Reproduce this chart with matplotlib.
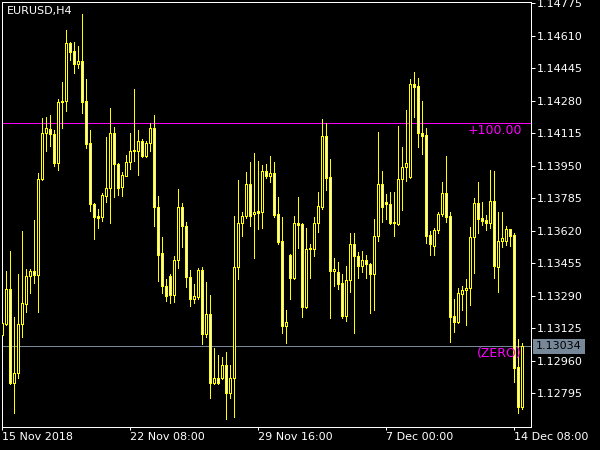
import matplotlib
matplotlib.use("Agg")
import matplotlib.pyplot as plt
import matplotlib.transforms as mtransforms

symbol = "EURUSD,H4"

# H4 bars from 15 Nov 2018 00:00 onward (weekends skipped)
opens = [1.13091, 1.13145, 1.13323, 1.12846, 1.12897, 1.13145, 1.13247, 1.13389, 1.13416, 1.13394,
         1.13882, 1.14115, 1.14137, 1.14110, 1.13966, 1.14273, 1.14279, 1.14572, 1.14533, 1.14465,
         1.14482, 1.14279, 1.14064, 1.13755, 1.13695, 1.13692, 1.13797, 1.13836, 1.14115, 1.13958,
         1.13844, 1.13900, 1.13968, 1.14025, 1.14027, 1.14076, 1.14000, 1.14064, 1.14141, 1.13739,
         1.13506, 1.13342, 1.13391, 1.13294, 1.13472, 1.13739, 1.13646, 1.13384, 1.13272, 1.13286,
         1.13421, 1.13095, 1.13196, 1.12846, 1.12871, 1.12871, 1.12939, 1.12799, 1.12871, 1.13435,
         1.13658, 1.13695, 1.13858, 1.13704, 1.13721, 1.13717, 1.13924, 1.13900, 1.13912, 1.13704,
         1.13568, 1.13139, 1.13497, 1.13379, 1.13658, 1.13655, 1.13235, 1.13535, 1.13528, 1.13658,
         1.13739, 1.14102, 1.13892, 1.13418, 1.13409, 1.13354, 1.13189, 1.13370, 1.13551, 1.13494,
         1.13443, 1.13472, 1.13450, 1.13399, 1.13594, 1.13856, 1.13765, 1.13755, 1.13667, 1.13653,
         1.13882, 1.13942, 1.13892, 1.14364, 1.14355, 1.14115, 1.14107, 1.13599, 1.13545, 1.13624,
         1.13704, 1.13811, 1.13695, 1.13188, 1.13159, 1.13298, 1.13320, 1.13328, 1.13587, 1.13760,
         1.13684, 1.13675, 1.13658, 1.13772, 1.13438, 1.13568, 1.13570, 1.13628, 1.13599, 1.12931,
         1.12727]
highs = [1.13159, 1.13416, 1.13518, 1.13181, 1.13401, 1.13619, 1.13426, 1.13426, 1.13675, 1.13914,
         1.14195, 1.14198, 1.14208, 1.14132, 1.14289, 1.14374, 1.14640, 1.14581, 1.14577, 1.14558,
         1.14721, 1.14391, 1.14132, 1.13760, 1.13731, 1.13814, 1.14098, 1.14245, 1.14149, 1.13963,
         1.13917, 1.14005, 1.14115, 1.14340, 1.14132, 1.14086, 1.14078, 1.14169, 1.14208, 1.13797,
         1.13591, 1.13374, 1.13401, 1.13492, 1.13833, 1.13763, 1.13663, 1.13421, 1.13350, 1.13430,
         1.13438, 1.13359, 1.13294, 1.13024, 1.12990, 1.12978, 1.13007, 1.12939, 1.13695, 1.13878,
         1.13714, 1.13917, 1.13968, 1.14014, 1.13975, 1.13954, 1.13959, 1.14000, 1.13968, 1.13794,
         1.13692, 1.13218, 1.13502, 1.13695, 1.13794, 1.13662, 1.13633, 1.13553, 1.13689, 1.13819,
         1.14188, 1.14166, 1.13985, 1.13484, 1.13460, 1.13401, 1.13442, 1.13607, 1.13607, 1.13514,
         1.13518, 1.13497, 1.13455, 1.13680, 1.14120, 1.13924, 1.13805, 1.13816, 1.13819, 1.14152,
         1.14047, 1.14234, 1.14389, 1.14425, 1.14394, 1.14279, 1.14144, 1.13619, 1.13633, 1.13714,
         1.13866, 1.14000, 1.13714, 1.13274, 1.13328, 1.13340, 1.13376, 1.13638, 1.13785, 1.13866,
         1.13768, 1.13700, 1.13929, 1.13926, 1.13717, 1.13717, 1.13646, 1.13629, 1.13607, 1.13069,
         1.13049]
lows = [1.13086, 1.13142, 1.12842, 1.12697, 1.12871, 1.13083, 1.13210, 1.13306, 1.13354, 1.13210,
        1.13878, 1.14027, 1.14053, 1.13951, 1.13931, 1.14144, 1.14230, 1.14487, 1.14423, 1.14445,
        1.14217, 1.14039, 1.13723, 1.13579, 1.13636, 1.13672, 1.13768, 1.13662, 1.13794, 1.13802,
        1.13799, 1.13899, 1.13934, 1.13976, 1.13904, 1.13997, 1.13997, 1.14027, 1.13646, 1.13367,
        1.13303, 1.13266, 1.13255, 1.13261, 1.13430, 1.13540, 1.13337, 1.13240, 1.13252, 1.13272,
        1.13044, 1.13083, 1.12770, 1.12841, 1.12842, 1.12868, 1.12663, 1.12773, 1.12677, 1.13374,
        1.13596, 1.13684, 1.13646, 1.13481, 1.13628, 1.13636, 1.13887, 1.13870, 1.13692, 1.13551,
        1.13100, 1.13049, 1.13274, 1.13376, 1.13531, 1.13184, 1.13230, 1.13382, 1.13494, 1.13616,
        1.13729, 1.13827, 1.13179, 1.13342, 1.13323, 1.13176, 1.13164, 1.13311, 1.13100, 1.13382,
        1.13413, 1.13382, 1.13201, 1.13218, 1.13570, 1.13667, 1.13680, 1.13653, 1.13594, 1.13650,
        1.13726, 1.13873, 1.13887, 1.14200, 1.14047, 1.14010, 1.13560, 1.13497, 1.13497, 1.13611,
        1.13695, 1.13663, 1.13057, 1.13108, 1.13150, 1.13218, 1.13142, 1.13244, 1.13408, 1.13607,
        1.13650, 1.13624, 1.13636, 1.13379, 1.13308, 1.13540, 1.13548, 1.13545, 1.12854, 1.12694,
        1.12714]
closes = [1.13150, 1.13323, 1.12846, 1.12897, 1.13147, 1.13252, 1.13389, 1.13416, 1.13394, 1.13882,
          1.14115, 1.14141, 1.14110, 1.13966, 1.14273, 1.14279, 1.14572, 1.14526, 1.14465, 1.14482,
          1.14273, 1.14061, 1.13755, 1.13692, 1.13687, 1.13802, 1.13836, 1.14115, 1.13958, 1.13839,
          1.13904, 1.13968, 1.14027, 1.14031, 1.14076, 1.14000, 1.14064, 1.14141, 1.13739, 1.13497,
          1.13342, 1.13289, 1.13294, 1.13472, 1.13739, 1.13646, 1.13384, 1.13272, 1.13289, 1.13421,
          1.13095, 1.13196, 1.12846, 1.12871, 1.12846, 1.12939, 1.12799, 1.12871, 1.13435, 1.13658,
          1.13695, 1.13858, 1.13695, 1.13714, 1.13712, 1.13924, 1.13900, 1.13912, 1.13700, 1.13565,
          1.13139, 1.13155, 1.13379, 1.13658, 1.13650, 1.13235, 1.13528, 1.13526, 1.13658, 1.13746,
          1.14102, 1.13887, 1.13418, 1.13425, 1.13350, 1.13189, 1.13370, 1.13551, 1.13492, 1.13443,
          1.13472, 1.13450, 1.13399, 1.13594, 1.13856, 1.13743, 1.13755, 1.13662, 1.13658, 1.13882,
          1.13942, 1.13963, 1.14364, 1.14352, 1.14115, 1.14103, 1.13596, 1.13551, 1.13624, 1.13704,
          1.13811, 1.13692, 1.13184, 1.13159, 1.13303, 1.13320, 1.13328, 1.13587, 1.13760, 1.13678,
          1.13672, 1.13658, 1.13772, 1.13443, 1.13568, 1.13582, 1.13628, 1.13596, 1.12925, 1.12727,
          1.13034]

date_ticks = [0, 32, 64, 96, 128]
date_labels = ["15 Nov 2018", "22 Nov 08:00", "29 Nov 16:00", "7 Dec 00:00", "14 Dec 08:00"]
price_ticks = [1.12795, 1.12960, 1.13125, 1.13290, 1.13455, 1.13620, 1.13785,
               1.13950, 1.14115, 1.14280, 1.14445, 1.14610, 1.14775]
last_price = 1.13034
upper_level = 1.14166

px = 0.72  # one pixel in points at dpi 100

fig = plt.figure(figsize=(6, 4.5), dpi=100, facecolor="black")
ax = fig.add_axes([2.3 / 600, 23.3 / 450, 528.4 / 600, 424.4 / 450])
ax.set_facecolor("black")

bars = list(range(len(opens)))
ax.vlines(bars, lows, highs, color="yellow", lw=px, antialiased=False, zorder=2)

bottoms = [min(o, c) for o, c in zip(opens, closes)]
heights = [abs(c - o) for o, c in zip(opens, closes)]
fills = ["black" if c >= o else "white" for o, c in zip(opens, closes)]
ax.bar(bars, heights, width=0.5, bottom=bottoms, color=fills, edgecolor="yellow",
       linewidth=px, antialiased=False, zorder=3)

ax.axhline(last_price, color="#778899", lw=px, zorder=1)
ax.axhline(upper_level, color="#ff00ff", lw=px, zorder=1)

ax.set_xlim(0, 132.1)
ax.set_ylim(1.12626, 1.14780)

ax.yaxis.tick_right()
ax.set_yticks(price_ticks, [f"{p:.5f}" for p in price_ticks])
ax.set_xticks(date_ticks, date_labels)
for lbl in ax.get_xticklabels():
    lbl.set_ha("left")
ax.tick_params(axis="y", colors="white", direction="out", length=3, width=px, pad=1.5, labelsize=8)
ax.tick_params(axis="x", colors="white", direction="out", length=2.2, width=px, pad=1.5, labelsize=8)
for s in ax.spines.values():
    s.set_color("white")
    s.set_linewidth(px)

trans = mtransforms.blended_transform_factory(ax.transAxes, ax.transData)
ax.text(1.0101, last_price, f"{last_price:.5f}", transform=trans, ha="left", va="center",
        fontsize=8, color="black", clip_on=False, zorder=5,
        bbox=dict(boxstyle="square,pad=0.25", fc="#778899", ec="none"))

ax.annotate("+100.00", xy=(0.9835, upper_level), xycoords=trans, xytext=(0, -5.5),
            textcoords="offset points", ha="right", va="center", fontsize=9, color="#ff00ff", zorder=5)
ax.annotate("(ZERO)", xy=(0.9835, last_price), xycoords=trans, xytext=(0, -5.5),
            textcoords="offset points", ha="right", va="center", fontsize=9, color="#ff00ff", zorder=5)

ax.text(0.0095, 0.9788, symbol, transform=ax.transAxes, ha="left", va="center",
        fontsize=8, color="white")

fig.savefig("out.png", dpi=100, facecolor="black")
